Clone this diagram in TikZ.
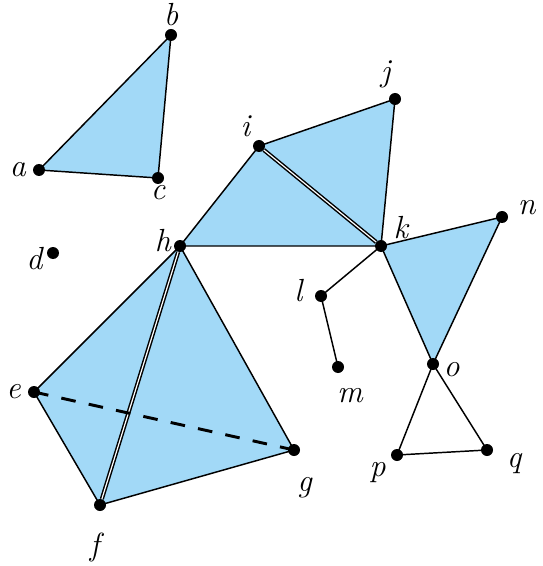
\documentclass[tikz,border=0pt]{standalone}
\usetikzlibrary{positioning, backgrounds}
\definecolor{faceblue}{RGB}{162,217,247}

\begin{document}
\begin{tikzpicture}[
  x=0.75pt, y=-0.75pt,
  font=\fontsize{24pt}{28pt}\selectfont\itshape,
  % vertices and labels
  vertex/.style={circle, fill=black, inner sep=0pt, minimum size=9pt},
  lbl/.style={inner sep=1pt},
  % faces and edges
  face/.style={fill=faceblue},
  edge/.style={draw, line width=1.1pt},
  glued/.style={draw, line width=1.1pt, double=white, double distance=0.9pt},
  hidden/.style={draw, line width=2.2pt, dash pattern=on 11pt off 10pt}
]
  \useasboundingbox (0,0) rectangle (542,566);

  % ==========================================
  % VERTICES
  % ==========================================
  \node[vertex] (a) at (39,170) {};
  \node[vertex] (b) at (171,35) {};
  \node[vertex] (c) at (158,178) {};
  \node[vertex] (d) at (53,253) {};
  \node[vertex] (e) at (34,392) {};
  \node[vertex] (f) at (100,505) {};
  \node[vertex] (g) at (294,450) {};
  \node[vertex] (h) at (180,246) {};
  \node[vertex] (i) at (259,146) {};
  \node[vertex] (j) at (395,99) {};
  \node[vertex] (k) at (381,246) {};
  \node[vertex] (l) at (321,296) {};
  \node[vertex] (m) at (338,367) {};
  \node[vertex] (n) at (502,217) {};
  \node[vertex] (o) at (433,364) {};
  \node[vertex] (p) at (397,455) {};
  \node[vertex] (q) at (487,450) {};

  % ==========================================
  % LABELS
  % ==========================================
  \node[lbl, left=4pt of a] (la) {a};
  \node[lbl, above=1pt of b] (lb) {b};
  \node[lbl, below=0pt of c] (lc) {c};
  \node[lbl, left=2pt of d, yshift=-4pt] (ld) {d};
  \node[lbl, left=4pt of e] (le) {e};
  \node[lbl, below=15pt of f, xshift=-4pt] (lf) {f};
  \node[lbl, below=15pt of g, xshift=8pt] (lg) {g};
  \node[lbl, left=1pt of h, yshift=4pt] (lh) {h};
  \node[lbl, above left=2pt and 2pt of i] (li) {i};
  \node[lbl, above=2pt of j, xshift=-7pt] (lj) {j};
  \node[lbl, above right=1pt and 5pt of k] (lk) {k};
  \node[lbl, left=8pt of l, yshift=4pt] (ll) {l};
  \node[lbl, below=10pt of m, xshift=9pt] (lm) {m};
  \node[lbl, right=2pt of o, yshift=-4pt] (lo) {o};
  \node[lbl, right=6pt of n, yshift=7pt] (ln) {n};
  \node[lbl, below left=1pt and 4pt of p] (lp) {p};
  \node[lbl, right=9pt of q, yshift=-10pt] (lq) {q};

  \begin{scope}[on background layer]
    % ==========================================
    % FACES
    % ==========================================
    \fill[face] (a.center) -- (b.center) -- (c.center) -- cycle;
    \fill[face] (h.center) -- (i.center) -- (j.center) -- (k.center) -- cycle;
    \fill[face] (k.center) -- (n.center) -- (o.center) -- cycle;
    \fill[face] (e.center) -- (h.center) -- (g.center) -- (f.center) -- cycle;

    % ==========================================
    % EDGES
    % ==========================================
    \draw[edge] (a.center) -- (b.center) -- (c.center) -- (a.center);
    \draw[edge] (h.center) -- (i.center) -- (j.center) -- (k.center) -- (h.center);
    \draw[edge] (k.center) -- (n.center) -- (o.center) -- (k.center);
    \draw[edge] (k.center) -- (l.center) -- (m.center);
    \draw[edge] (o.center) -- (p.center) -- (q.center) -- (o.center);
    \draw[edge] (e.center) -- (h.center) -- (g.center) -- (f.center) -- (e.center);

    % glued edges
    \draw[glued] (i) -- (k);
    \draw[glued] (h) -- (f);

    % hidden edge
    \draw[hidden] (e.center) -- (g.center);
  \end{scope}

\end{tikzpicture}
\end{document}
